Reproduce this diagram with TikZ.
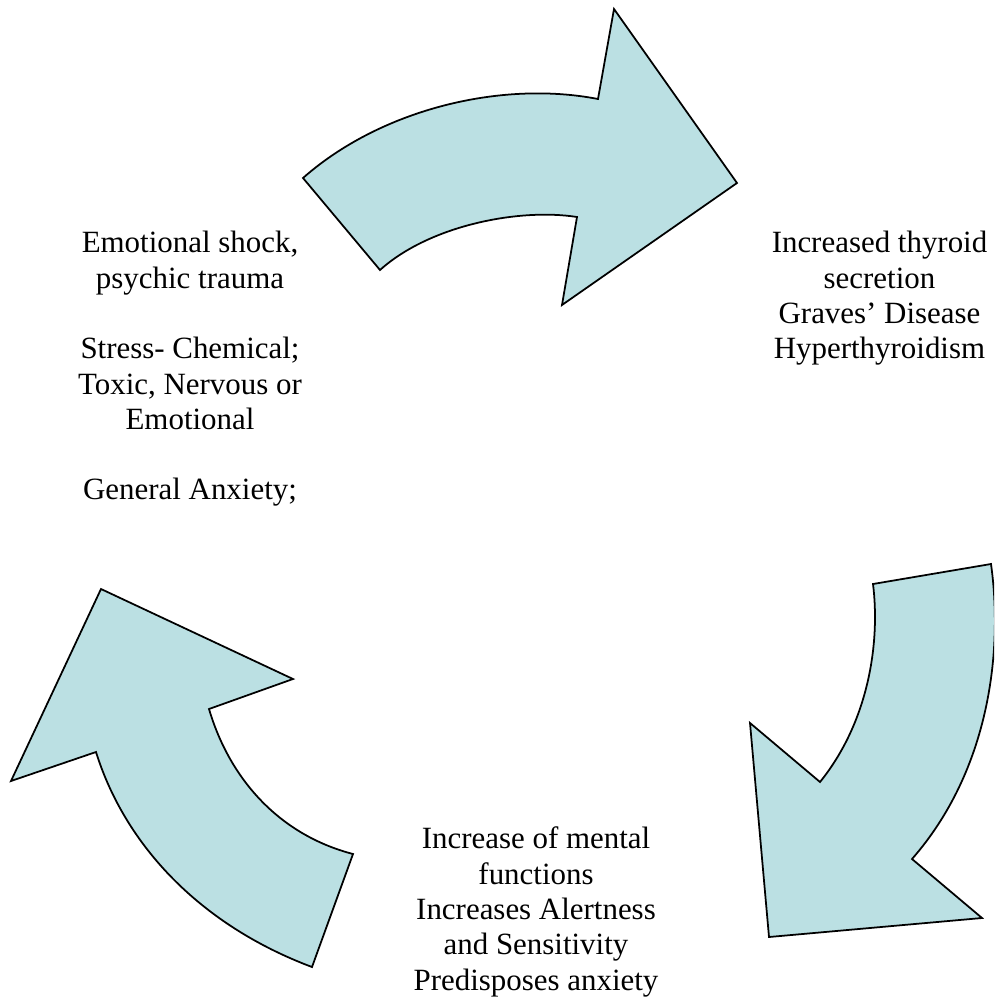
\documentclass[tikz,border=0pt]{standalone}
\usepackage{fontspec}
\setmainfont{Liberation Serif}
\definecolor{arrowfill}{RGB}{187, 224, 227}
\tikzset{
    cyclearrow/.style={draw=black, line width=1pt, fill=arrowfill,
        line join=miter},
    cycletext/.style={align=center, inner sep=0pt,
        font=\fontsize{17.6}{20.1}\selectfont},
}

\begin{document}
\begin{tikzpicture}[x=.02cm, y=-.02cm]
    \useasboundingbox (0, 0) rectangle (994, 1000);
    \clip (0, 0) rectangle (994, 1000);
    % top arrow, pointing right
    \draw[cyclearrow] (303, 178) .. controls (380, 110) and (500, 80) .. (598, 99)
        -- (614, 9) -- (737, 183) -- (562, 305) -- (577, 217)
        .. controls (520, 208) and (430, 225) .. (380, 270) -- cycle;
    % right arrow, pointing down
    \draw[cyclearrow] (991, 564) -- (873, 584)
        .. controls (880, 640) and (870, 720) .. (820, 782)
        -- (750, 723) -- (769, 937) -- (982, 918) -- (912, 859)
        .. controls (990, 770) and (1003, 650) .. (991, 564) -- cycle;
    % left arrow, pointing up
    \draw[cyclearrow] (101, 589) -- (293, 679) -- (209, 709)
        .. controls (230, 780) and (280, 835) .. (353, 854)
        -- (312, 967) .. controls (200, 925) and (125, 845) .. (96, 752)
        -- (11, 781) -- cycle;

    \node[cycletext] (emotext) at (190, 369) {Emotional shock,\\
        psychic trauma\\[\baselineskip] Stress- Chemical;\\ Toxic, Nervous or\\
        Emotional\\[\baselineskip] General Anxiety;};
    \node[cycletext] (thyrtext) at (879.5, 298.5) {Increased thyroid\\
        secretion\\ Graves’ Disease\\ Hyperthyroidism};
    \node[cycletext] (mentaltext) at (536, 912) {Increase of mental\\
        functions\\ Increases Alertness\\ and Sensitivity\\
        Predisposes anxiety};
\end{tikzpicture}
\end{document}
